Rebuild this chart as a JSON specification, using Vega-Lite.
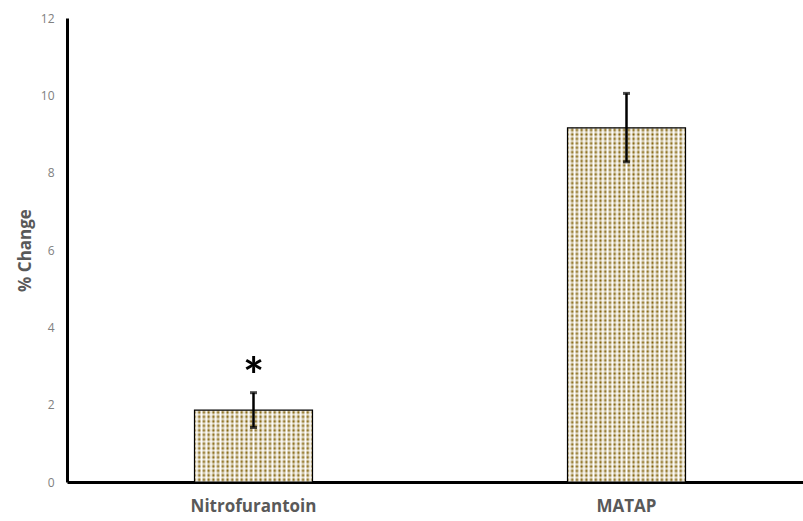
{
  "$schema": "https://vega.github.io/schema/vega-lite/v6.json",
  "width": 736,
  "height": 464,
  "autosize": {"type": "none"},
  "padding": {"left": 67, "top": 18, "right": 0, "bottom": 39},
  "background": "white",
  "config": {"view": {"stroke": null}, "font": "Open Sans"},
  "data": {
    "values": [
      {"drug": "Nitrofurantoin", "value": 1.86, "lo": 1.41, "hi": 2.31, "sig": "*"},
      {"drug": "MATAP", "value": 9.16, "lo": 8.28, "hi": 10.05, "sig": ""}
    ]
  },
  "encoding": {
    "x": {
      "field": "drug",
      "type": "nominal",
      "sort": ["Nitrofurantoin", "MATAP"],
      "scale": {"type": "band", "range": [0, 746], "paddingInner": 0, "paddingOuter": 0},
      "axis": {
        "title": null,
        "domainColor": "black",
        "domainWidth": 3,
        "ticks": false,
        "labelAngle": 0,
        "labelFontSize": 17,
        "labelFontWeight": "bold",
        "labelColor": "#595959",
        "labelPadding": 16
      }
    },
    "y": {
      "field": "value",
      "type": "quantitative",
      "scale": {"domain": [0, 12], "nice": false},
      "axis": {
        "title": "% Change",
        "titleFontSize": 17,
        "titleFontWeight": "bold",
        "titleColor": "#595959",
        "titlePadding": 6,
        "values": [0, 2, 4, 6, 8, 10, 12],
        "grid": false,
        "ticks": false,
        "domainColor": "black",
        "domainWidth": 3,
        "labelFontSize": 12,
        "labelColor": "#808080",
        "labelPadding": 13
      }
    }
  },
  "layer": [
    {
      "mark": {"type": "bar", "size": 118, "strokeWidth": 0, "fill": {"gradient": "linear", "x1": 0, "y1": 0, "x2": 1, "y2": 0, "stops": [
        {"offset": 0, "color": "#7d5c00"}, {"offset": 0.02, "color": "#ffffff"}, {"offset": 0.04, "color": "#7d5c00"}, {"offset": 0.06, "color": "#ffffff"}, {"offset": 0.08, "color": "#7d5c00"}, {"offset": 0.1, "color": "#ffffff"}, {"offset": 0.12, "color": "#7d5c00"}, {"offset": 0.14, "color": "#ffffff"}, {"offset": 0.16, "color": "#7d5c00"}, {"offset": 0.18, "color": "#ffffff"},
        {"offset": 0.2, "color": "#7d5c00"}, {"offset": 0.22, "color": "#ffffff"}, {"offset": 0.24, "color": "#7d5c00"}, {"offset": 0.26, "color": "#ffffff"}, {"offset": 0.28, "color": "#7d5c00"}, {"offset": 0.3, "color": "#ffffff"}, {"offset": 0.32, "color": "#7d5c00"}, {"offset": 0.34, "color": "#ffffff"}, {"offset": 0.36, "color": "#7d5c00"}, {"offset": 0.38, "color": "#ffffff"},
        {"offset": 0.4, "color": "#7d5c00"}, {"offset": 0.42, "color": "#ffffff"}, {"offset": 0.44, "color": "#7d5c00"}, {"offset": 0.46, "color": "#ffffff"}, {"offset": 0.48, "color": "#7d5c00"}, {"offset": 0.5, "color": "#ffffff"}, {"offset": 0.52, "color": "#7d5c00"}, {"offset": 0.54, "color": "#ffffff"}, {"offset": 0.56, "color": "#7d5c00"}, {"offset": 0.58, "color": "#ffffff"},
        {"offset": 0.6, "color": "#7d5c00"}, {"offset": 0.62, "color": "#ffffff"}, {"offset": 0.64, "color": "#7d5c00"}, {"offset": 0.66, "color": "#ffffff"}, {"offset": 0.68, "color": "#7d5c00"}, {"offset": 0.7, "color": "#ffffff"}, {"offset": 0.72, "color": "#7d5c00"}, {"offset": 0.74, "color": "#ffffff"}, {"offset": 0.76, "color": "#7d5c00"}, {"offset": 0.78, "color": "#ffffff"},
        {"offset": 0.8, "color": "#7d5c00"}, {"offset": 0.82, "color": "#ffffff"}, {"offset": 0.84, "color": "#7d5c00"}, {"offset": 0.86, "color": "#ffffff"}, {"offset": 0.88, "color": "#7d5c00"}, {"offset": 0.9, "color": "#ffffff"}, {"offset": 0.92, "color": "#7d5c00"}, {"offset": 0.94, "color": "#ffffff"}, {"offset": 0.96, "color": "#7d5c00"}, {"offset": 0.98, "color": "#ffffff"},
        {"offset": 1, "color": "#7d5c00"}
      ]}}
    },
    {
      "transform": [{"filter": "datum.drug === 'MATAP'"}],
      "mark": {"type": "bar", "size": 118, "strokeWidth": 0, "fill": {"gradient": "linear", "x1": 0, "y1": 0, "x2": 0, "y2": 1, "stops": [
        {"offset": 0, "color": "rgba(255,255,255,0.75)"}, {"offset": 0.00625, "color": "rgba(255,255,255,0)"}, {"offset": 0.0125, "color": "rgba(255,255,255,0.75)"}, {"offset": 0.01875, "color": "rgba(255,255,255,0)"}, {"offset": 0.025, "color": "rgba(255,255,255,0.75)"}, {"offset": 0.03125, "color": "rgba(255,255,255,0)"}, {"offset": 0.0375, "color": "rgba(255,255,255,0.75)"}, {"offset": 0.04375, "color": "rgba(255,255,255,0)"},
        {"offset": 0.05, "color": "rgba(255,255,255,0.75)"}, {"offset": 0.05625, "color": "rgba(255,255,255,0)"}, {"offset": 0.0625, "color": "rgba(255,255,255,0.75)"}, {"offset": 0.06875, "color": "rgba(255,255,255,0)"}, {"offset": 0.075, "color": "rgba(255,255,255,0.75)"}, {"offset": 0.08125, "color": "rgba(255,255,255,0)"}, {"offset": 0.0875, "color": "rgba(255,255,255,0.75)"}, {"offset": 0.09375, "color": "rgba(255,255,255,0)"},
        {"offset": 0.1, "color": "rgba(255,255,255,0.75)"}, {"offset": 0.10625, "color": "rgba(255,255,255,0)"}, {"offset": 0.1125, "color": "rgba(255,255,255,0.75)"}, {"offset": 0.11875, "color": "rgba(255,255,255,0)"}, {"offset": 0.125, "color": "rgba(255,255,255,0.75)"}, {"offset": 0.13125, "color": "rgba(255,255,255,0)"}, {"offset": 0.1375, "color": "rgba(255,255,255,0.75)"}, {"offset": 0.14375, "color": "rgba(255,255,255,0)"},
        {"offset": 0.15, "color": "rgba(255,255,255,0.75)"}, {"offset": 0.15625, "color": "rgba(255,255,255,0)"}, {"offset": 0.1625, "color": "rgba(255,255,255,0.75)"}, {"offset": 0.16875, "color": "rgba(255,255,255,0)"}, {"offset": 0.175, "color": "rgba(255,255,255,0.75)"}, {"offset": 0.18125, "color": "rgba(255,255,255,0)"}, {"offset": 0.1875, "color": "rgba(255,255,255,0.75)"}, {"offset": 0.19375, "color": "rgba(255,255,255,0)"},
        {"offset": 0.2, "color": "rgba(255,255,255,0.75)"}, {"offset": 0.20625, "color": "rgba(255,255,255,0)"}, {"offset": 0.2125, "color": "rgba(255,255,255,0.75)"}, {"offset": 0.21875, "color": "rgba(255,255,255,0)"}, {"offset": 0.225, "color": "rgba(255,255,255,0.75)"}, {"offset": 0.23125, "color": "rgba(255,255,255,0)"}, {"offset": 0.2375, "color": "rgba(255,255,255,0.75)"}, {"offset": 0.24375, "color": "rgba(255,255,255,0)"},
        {"offset": 0.25, "color": "rgba(255,255,255,0.75)"}, {"offset": 0.25625, "color": "rgba(255,255,255,0)"}, {"offset": 0.2625, "color": "rgba(255,255,255,0.75)"}, {"offset": 0.26875, "color": "rgba(255,255,255,0)"}, {"offset": 0.275, "color": "rgba(255,255,255,0.75)"}, {"offset": 0.28125, "color": "rgba(255,255,255,0)"}, {"offset": 0.2875, "color": "rgba(255,255,255,0.75)"}, {"offset": 0.29375, "color": "rgba(255,255,255,0)"},
        {"offset": 0.3, "color": "rgba(255,255,255,0.75)"}, {"offset": 0.30625, "color": "rgba(255,255,255,0)"}, {"offset": 0.3125, "color": "rgba(255,255,255,0.75)"}, {"offset": 0.31875, "color": "rgba(255,255,255,0)"}, {"offset": 0.325, "color": "rgba(255,255,255,0.75)"}, {"offset": 0.33125, "color": "rgba(255,255,255,0)"}, {"offset": 0.3375, "color": "rgba(255,255,255,0.75)"}, {"offset": 0.34375, "color": "rgba(255,255,255,0)"},
        {"offset": 0.35, "color": "rgba(255,255,255,0.75)"}, {"offset": 0.35625, "color": "rgba(255,255,255,0)"}, {"offset": 0.3625, "color": "rgba(255,255,255,0.75)"}, {"offset": 0.36875, "color": "rgba(255,255,255,0)"}, {"offset": 0.375, "color": "rgba(255,255,255,0.75)"}, {"offset": 0.38125, "color": "rgba(255,255,255,0)"}, {"offset": 0.3875, "color": "rgba(255,255,255,0.75)"}, {"offset": 0.39375, "color": "rgba(255,255,255,0)"},
        {"offset": 0.4, "color": "rgba(255,255,255,0.75)"}, {"offset": 0.40625, "color": "rgba(255,255,255,0)"}, {"offset": 0.4125, "color": "rgba(255,255,255,0.75)"}, {"offset": 0.41875, "color": "rgba(255,255,255,0)"}, {"offset": 0.425, "color": "rgba(255,255,255,0.75)"}, {"offset": 0.43125, "color": "rgba(255,255,255,0)"}, {"offset": 0.4375, "color": "rgba(255,255,255,0.75)"}, {"offset": 0.44375, "color": "rgba(255,255,255,0)"},
        {"offset": 0.45, "color": "rgba(255,255,255,0.75)"}, {"offset": 0.45625, "color": "rgba(255,255,255,0)"}, {"offset": 0.4625, "color": "rgba(255,255,255,0.75)"}, {"offset": 0.46875, "color": "rgba(255,255,255,0)"}, {"offset": 0.475, "color": "rgba(255,255,255,0.75)"}, {"offset": 0.48125, "color": "rgba(255,255,255,0)"}, {"offset": 0.4875, "color": "rgba(255,255,255,0.75)"}, {"offset": 0.49375, "color": "rgba(255,255,255,0)"},
        {"offset": 0.5, "color": "rgba(255,255,255,0.75)"}, {"offset": 0.50625, "color": "rgba(255,255,255,0)"}, {"offset": 0.5125, "color": "rgba(255,255,255,0.75)"}, {"offset": 0.51875, "color": "rgba(255,255,255,0)"}, {"offset": 0.525, "color": "rgba(255,255,255,0.75)"}, {"offset": 0.53125, "color": "rgba(255,255,255,0)"}, {"offset": 0.5375, "color": "rgba(255,255,255,0.75)"}, {"offset": 0.54375, "color": "rgba(255,255,255,0)"},
        {"offset": 0.55, "color": "rgba(255,255,255,0.75)"}, {"offset": 0.55625, "color": "rgba(255,255,255,0)"}, {"offset": 0.5625, "color": "rgba(255,255,255,0.75)"}, {"offset": 0.56875, "color": "rgba(255,255,255,0)"}, {"offset": 0.575, "color": "rgba(255,255,255,0.75)"}, {"offset": 0.58125, "color": "rgba(255,255,255,0)"}, {"offset": 0.5875, "color": "rgba(255,255,255,0.75)"}, {"offset": 0.59375, "color": "rgba(255,255,255,0)"},
        {"offset": 0.6, "color": "rgba(255,255,255,0.75)"}, {"offset": 0.60625, "color": "rgba(255,255,255,0)"}, {"offset": 0.6125, "color": "rgba(255,255,255,0.75)"}, {"offset": 0.61875, "color": "rgba(255,255,255,0)"}, {"offset": 0.625, "color": "rgba(255,255,255,0.75)"}, {"offset": 0.63125, "color": "rgba(255,255,255,0)"}, {"offset": 0.6375, "color": "rgba(255,255,255,0.75)"}, {"offset": 0.64375, "color": "rgba(255,255,255,0)"},
        {"offset": 0.65, "color": "rgba(255,255,255,0.75)"}, {"offset": 0.65625, "color": "rgba(255,255,255,0)"}, {"offset": 0.6625, "color": "rgba(255,255,255,0.75)"}, {"offset": 0.66875, "color": "rgba(255,255,255,0)"}, {"offset": 0.675, "color": "rgba(255,255,255,0.75)"}, {"offset": 0.68125, "color": "rgba(255,255,255,0)"}, {"offset": 0.6875, "color": "rgba(255,255,255,0.75)"}, {"offset": 0.69375, "color": "rgba(255,255,255,0)"},
        {"offset": 0.7, "color": "rgba(255,255,255,0.75)"}, {"offset": 0.70625, "color": "rgba(255,255,255,0)"}, {"offset": 0.7125, "color": "rgba(255,255,255,0.75)"}, {"offset": 0.71875, "color": "rgba(255,255,255,0)"}, {"offset": 0.725, "color": "rgba(255,255,255,0.75)"}, {"offset": 0.73125, "color": "rgba(255,255,255,0)"}, {"offset": 0.7375, "color": "rgba(255,255,255,0.75)"}, {"offset": 0.74375, "color": "rgba(255,255,255,0)"},
        {"offset": 0.75, "color": "rgba(255,255,255,0.75)"}, {"offset": 0.75625, "color": "rgba(255,255,255,0)"}, {"offset": 0.7625, "color": "rgba(255,255,255,0.75)"}, {"offset": 0.76875, "color": "rgba(255,255,255,0)"}, {"offset": 0.775, "color": "rgba(255,255,255,0.75)"}, {"offset": 0.78125, "color": "rgba(255,255,255,0)"}, {"offset": 0.7875, "color": "rgba(255,255,255,0.75)"}, {"offset": 0.79375, "color": "rgba(255,255,255,0)"},
        {"offset": 0.8, "color": "rgba(255,255,255,0.75)"}, {"offset": 0.80625, "color": "rgba(255,255,255,0)"}, {"offset": 0.8125, "color": "rgba(255,255,255,0.75)"}, {"offset": 0.81875, "color": "rgba(255,255,255,0)"}, {"offset": 0.825, "color": "rgba(255,255,255,0.75)"}, {"offset": 0.83125, "color": "rgba(255,255,255,0)"}, {"offset": 0.8375, "color": "rgba(255,255,255,0.75)"}, {"offset": 0.84375, "color": "rgba(255,255,255,0)"},
        {"offset": 0.85, "color": "rgba(255,255,255,0.75)"}, {"offset": 0.85625, "color": "rgba(255,255,255,0)"}, {"offset": 0.8625, "color": "rgba(255,255,255,0.75)"}, {"offset": 0.86875, "color": "rgba(255,255,255,0)"}, {"offset": 0.875, "color": "rgba(255,255,255,0.75)"}, {"offset": 0.88125, "color": "rgba(255,255,255,0)"}, {"offset": 0.8875, "color": "rgba(255,255,255,0.75)"}, {"offset": 0.89375, "color": "rgba(255,255,255,0)"},
        {"offset": 0.9, "color": "rgba(255,255,255,0.75)"}, {"offset": 0.90625, "color": "rgba(255,255,255,0)"}, {"offset": 0.9125, "color": "rgba(255,255,255,0.75)"}, {"offset": 0.91875, "color": "rgba(255,255,255,0)"}, {"offset": 0.925, "color": "rgba(255,255,255,0.75)"}, {"offset": 0.93125, "color": "rgba(255,255,255,0)"}, {"offset": 0.9375, "color": "rgba(255,255,255,0.75)"}, {"offset": 0.94375, "color": "rgba(255,255,255,0)"},
        {"offset": 0.95, "color": "rgba(255,255,255,0.75)"}, {"offset": 0.95625, "color": "rgba(255,255,255,0)"}, {"offset": 0.9625, "color": "rgba(255,255,255,0.75)"}, {"offset": 0.96875, "color": "rgba(255,255,255,0)"}, {"offset": 0.975, "color": "rgba(255,255,255,0.75)"}, {"offset": 0.98125, "color": "rgba(255,255,255,0)"}, {"offset": 0.9875, "color": "rgba(255,255,255,0.75)"}, {"offset": 0.99375, "color": "rgba(255,255,255,0)"},
        {"offset": 1, "color": "rgba(255,255,255,0.75)"}
      ]}}
    },
    {
      "transform": [{"filter": "datum.drug === 'Nitrofurantoin'"}],
      "mark": {"type": "bar", "size": 118, "strokeWidth": 0, "fill": {"gradient": "linear", "x1": 0, "y1": 0, "x2": 0, "y2": 1, "stops": [
        {"offset": 0, "color": "rgba(255,255,255,0.75)"}, {"offset": 0.03125, "color": "rgba(255,255,255,0)"}, {"offset": 0.0625, "color": "rgba(255,255,255,0.75)"}, {"offset": 0.09375, "color": "rgba(255,255,255,0)"},
        {"offset": 0.125, "color": "rgba(255,255,255,0.75)"}, {"offset": 0.15625, "color": "rgba(255,255,255,0)"}, {"offset": 0.1875, "color": "rgba(255,255,255,0.75)"}, {"offset": 0.21875, "color": "rgba(255,255,255,0)"},
        {"offset": 0.25, "color": "rgba(255,255,255,0.75)"}, {"offset": 0.28125, "color": "rgba(255,255,255,0)"}, {"offset": 0.3125, "color": "rgba(255,255,255,0.75)"}, {"offset": 0.34375, "color": "rgba(255,255,255,0)"},
        {"offset": 0.375, "color": "rgba(255,255,255,0.75)"}, {"offset": 0.40625, "color": "rgba(255,255,255,0)"}, {"offset": 0.4375, "color": "rgba(255,255,255,0.75)"}, {"offset": 0.46875, "color": "rgba(255,255,255,0)"},
        {"offset": 0.5, "color": "rgba(255,255,255,0.75)"}, {"offset": 0.53125, "color": "rgba(255,255,255,0)"}, {"offset": 0.5625, "color": "rgba(255,255,255,0.75)"}, {"offset": 0.59375, "color": "rgba(255,255,255,0)"},
        {"offset": 0.625, "color": "rgba(255,255,255,0.75)"}, {"offset": 0.65625, "color": "rgba(255,255,255,0)"}, {"offset": 0.6875, "color": "rgba(255,255,255,0.75)"}, {"offset": 0.71875, "color": "rgba(255,255,255,0)"},
        {"offset": 0.75, "color": "rgba(255,255,255,0.75)"}, {"offset": 0.78125, "color": "rgba(255,255,255,0)"}, {"offset": 0.8125, "color": "rgba(255,255,255,0.75)"}, {"offset": 0.84375, "color": "rgba(255,255,255,0)"},
        {"offset": 0.875, "color": "rgba(255,255,255,0.75)"}, {"offset": 0.90625, "color": "rgba(255,255,255,0)"}, {"offset": 0.9375, "color": "rgba(255,255,255,0.75)"}, {"offset": 0.96875, "color": "rgba(255,255,255,0)"},
        {"offset": 1, "color": "rgba(255,255,255,0.75)"}
      ]}}
    },
    {
      "mark": {"type": "bar", "size": 118, "fill": null, "fillOpacity": 0, "stroke": "black", "strokeWidth": 1.2}
    },
    {
      "mark": {"type": "rule", "color": "black", "strokeWidth": 2.5},
      "encoding": {
        "y": {"field": "lo", "type": "quantitative"},
        "y2": {"field": "hi"}
      }
    },
    {
      "mark": {"type": "tick", "color": "black", "size": 7, "thickness": 3},
      "encoding": {"y": {"field": "hi", "type": "quantitative"}}
    },
    {
      "mark": {"type": "tick", "color": "black", "size": 7, "thickness": 3},
      "encoding": {"y": {"field": "lo", "type": "quantitative"}}
    },
    {
      "mark": {"type": "text", "font": "Lato", "fontSize": 50, "fontWeight": "bold", "color": "black", "baseline": "middle", "dy": -14},
      "encoding": {
        "y": {"field": "hi", "type": "quantitative"},
        "text": {"field": "sig"}
      }
    }
  ]
}
